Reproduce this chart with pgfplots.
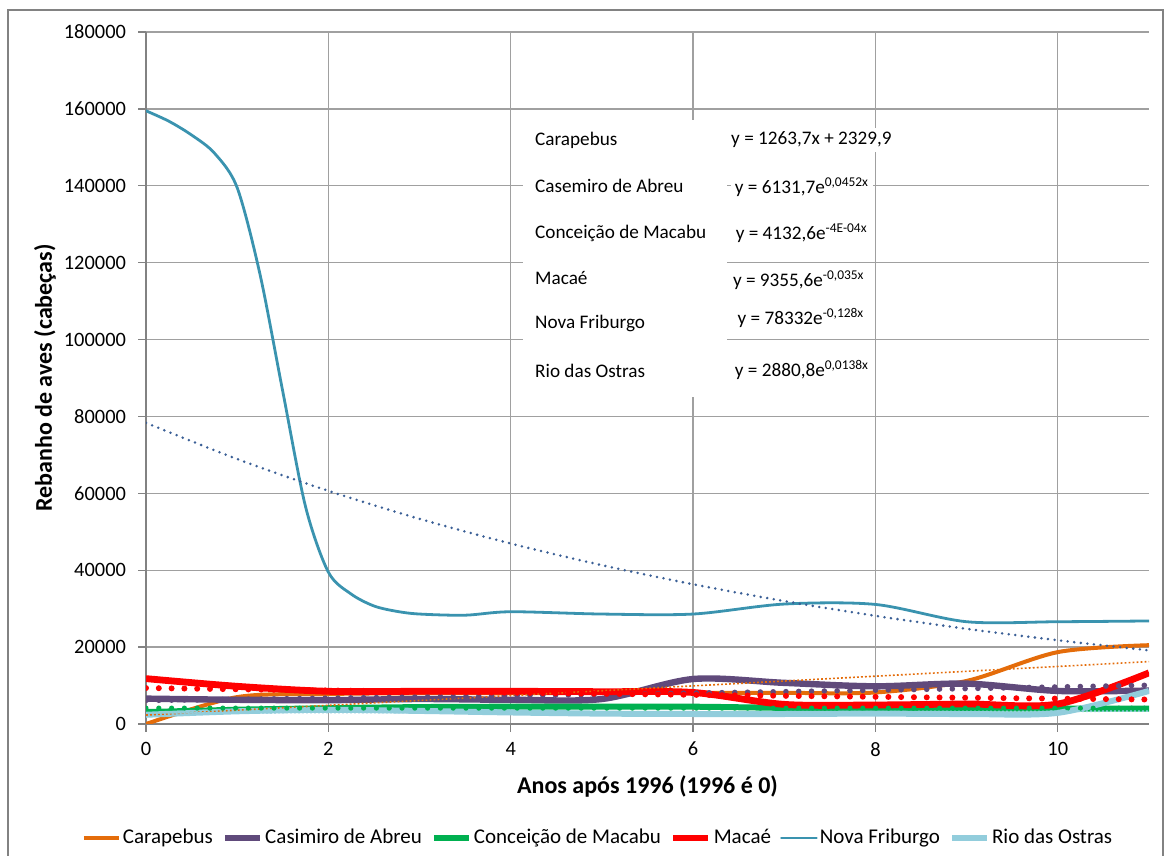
\documentclass[border=0pt]{standalone}
\usepackage{fontspec}
\setmainfont{Carlito}
\usepackage{pgfplots}
\pgfplotsset{compat=1.18}

\definecolor{cOrange}{HTML}{E46C0A}
\definecolor{cPurple}{HTML}{604A7B}
\definecolor{cGreen}{HTML}{00B050}
\definecolor{cRed}{HTML}{FF0000}
\definecolor{cTeal}{HTML}{3A93AF}
\definecolor{cLight}{HTML}{92CDDC}
\definecolor{cNavy}{HTML}{3A5F96}
\definecolor{gridc}{HTML}{A0A0A0}
\definecolor{axc}{HTML}{828282}

\begin{document}
\begin{tikzpicture}
\useasboundingbox (0,0) rectangle (583.5pt,428pt);
\draw[color=axc, line width=0.6pt] (4pt,-2pt) -- (4pt,423pt) -- (581.5pt,423pt) -- (581.5pt,-2pt);
\begin{axis}[
  at={(73pt,66pt)}, anchor=south west,
  scale only axis, width=501.5pt, height=346pt,
  xmin=0, xmax=11, ymin=0, ymax=180000,
  xtick={0,2,...,10}, ytick={0,20000,...,180000},
  scaled y ticks=false,
  /pgf/number format/fixed,
  /pgf/number format/precision=0,
  /pgf/number format/1000 sep={},
  /pgf/number format/assume math mode=true,
  axis lines*=left,
  axis line style={axc, line width=1pt, -},
  grid=major, major grid style={gridc, line width=0.65pt},
  tick align=outside, major tick length=4pt,
  tick style={axc, line width=0.65pt},
  ticklabel style={font=\fontsize{10.2}{12}\selectfont, text=black},
  yticklabel style={xshift=-2.5pt},
  xticklabel style={yshift=-1.5pt},
  xlabel={Anos após 1996 (1996 é 0)}, ylabel={Rebanho de aves (cabeças)},
  label style={font=\fontsize{12}{14}\selectfont\bfseries},
  xlabel style={at={(axis description cs:0.5,-0.0896)}, anchor=center},
  ylabel style={at={(axis description cs:-0.1007,0.5)}, anchor=center},
  legend columns=-1,
  legend style={at={(0.4507,-0.1647)}, anchor=center, draw=none, fill=none,
    font=\fontsize{10.5}{12}\selectfont, nodes={inner sep=1pt},
    /tikz/every even column/.append style={column sep=3.5pt}},
  legend image code/.code={\draw[#1] (0pt,0pt) -- (17.5pt,0pt);},
]
% data series
\addplot[cOrange, line width=2pt, smooth, line join=round] coordinates {
(0,0) (1,7000) (2,7800) (3,8000) (4,8000) (5,8100) (6,8100) (7,8100) (8,8200) (9,11200) (10,18700) (11,20500)};
\addlegendentry{Carapebus}
\addplot[cPurple, line width=3.2pt, smooth, line join=round] coordinates {
(0,6600) (1,6300) (2,6200) (3,6500) (4,6300) (5,6500) (6,11700) (7,10700) (8,9800) (9,10500) (10,8600) (11,8700)};
\addlegendentry{Casimiro de Abreu}
\addplot[cGreen, line width=3pt, smooth, line join=round] coordinates {
(0,3100) (1,3700) (2,4100) (3,4400) (4,4500) (5,4500) (6,4500) (7,4200) (8,4100) (9,4000) (10,4000) (11,4000)};
\addlegendentry{Conceição de Macabu}
\addplot[cRed, line width=3.4pt, smooth, line join=round] coordinates {
(0,11800) (1,9800) (2,8500) (3,8500) (4,8500) (5,8400) (6,8200) (7,5100) (8,4950) (9,5200) (10,5200) (11,13300)};
\addlegendentry{Macaé}
\addplot[cTeal, line width=1.4pt, smooth, line join=round, line cap=round] coordinates {
(0,159500) (0.25,156800) (0.5,153200) (0.75,148500) (1,139500) (1.25,117000) (1.5,86500) (1.75,56500) (2,39500) (2.25,33800) (2.5,30700) (2.75,29300) (3,28600) (3.5,28300) (4,29200) (5,28600) (6,28600) (7,31200) (8,31100) (9,26600) (10,26600) (11,26800)};
\addlegendentry{Nova Friburgo}
\addplot[cLight, line width=3pt, smooth, line join=round] coordinates {
(0,2400) (1,3300) (2,3700) (3,3400) (4,3000) (5,2700) (6,2600) (7,2600) (8,2700) (9,2600) (10,2900) (11,8600)};
\addlegendentry{Rio das Ostras}
% trend lines
\addplot[forget plot, cOrange, line width=0.8pt, dash pattern=on 0.9pt off 1.1pt] coordinates {(0,2330) (11,16231)};
\addplot[forget plot, cPurple, line width=2.8pt, line cap=round, dash pattern=on 0pt off 6.4pt, smooth] coordinates {
(0,6132) (1,6415) (2,6712) (3,7022) (4,7347) (5,7687) (6,8042) (7,8414) (8,8803) (9,9211) (10,9637) (11,10082)};
\addplot[forget plot, cGreen, line width=2.6pt, line cap=round, dash pattern=on 0pt off 6.4pt] coordinates {
(0,4133) (5.5,4124) (11,4114)};
\addplot[forget plot, cRed, line width=3pt, line cap=round, dash pattern=on 0pt off 6.4pt, smooth] coordinates {
(0,9356) (1,9034) (2,8723) (3,8423) (4,8133) (5,7854) (6,7584) (7,7323) (8,7071) (9,6828) (10,6593) (11,6366)};
\addplot[forget plot, cNavy, line width=1.4pt, line cap=round, dash pattern=on 0pt off 3.3pt, smooth] coordinates {
(0,78332) (1,68921) (2,60640) (3,53354) (4,46944) (5,41304) (6,36341) (7,31975) (8,28133) (9,24753) (10,21779) (11,19162)};
\addplot[forget plot, cLight, line width=0.8pt, dash pattern=on 0.9pt off 1.1pt, smooth] coordinates {
(0,2881) (2,2961) (4,3044) (6,3129) (8,3217) (10,3307) (11,3353)};
% equation box
\fill[white] (axis cs:4.135,157100) rectangle (axis cs:6.372,85060);
\begin{scope}[every node/.style={anchor=west, font=\fontsize{9.6}{11}\selectfont, inner sep=2pt}]
\node at (axis cs:4.22,151910) {Carapebus};
\node at (axis cs:4.22,139950) {Casemiro de Abreu};
\node at (axis cs:4.22,127720) {Conceição de Macabu};
\node at (axis cs:4.22,116010) {Macaé};
\node at (axis cs:4.22,104050) {Nova Friburgo};
\node at (axis cs:4.22,91820) {Rio das Ostras};
\node[fill=white] at (axis cs:6.37,151910) {y = 1263,7x + 2329,9};
\node[fill=white] at (axis cs:6.41,139680) {y = 6131,7e\textsuperscript{0,0452x}};
\node[fill=white] at (axis cs:6.42,127720) {y = 4132,6e\textsuperscript{-4E-04x}};
\node[fill=white] at (axis cs:6.39,115490) {y = 9355,6e\textsuperscript{-0,035x}};
\node[fill=white] at (axis cs:6.44,105610) {y = 78332e\textsuperscript{-0,128x}};
\node[fill=white] at (axis cs:6.41,92080) {y = 2880,8e\textsuperscript{0,0138x}};
\end{scope}
\end{axis}
\end{tikzpicture}
\end{document}
